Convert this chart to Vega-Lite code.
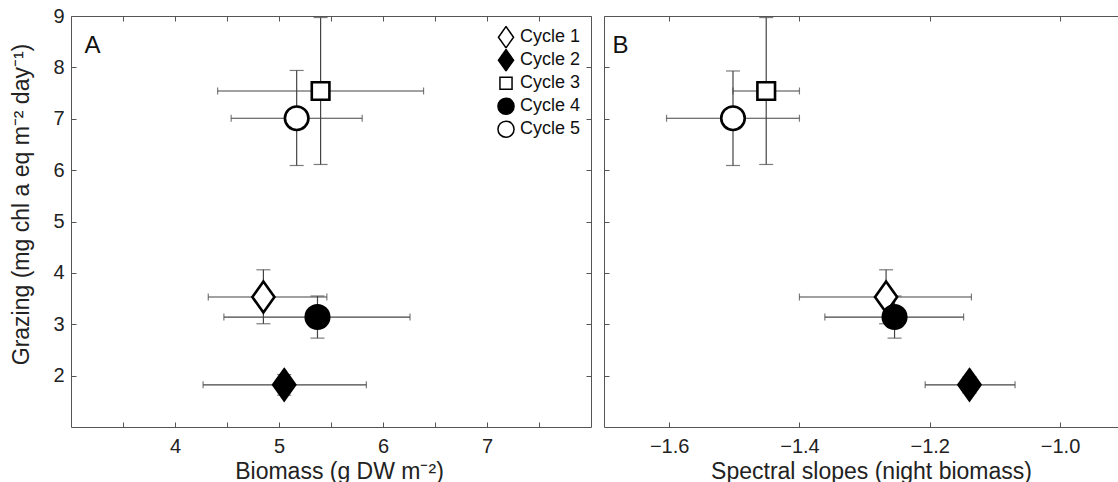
{
  "$schema": "https://vega.github.io/schema/vega-lite/v6.json",
  "background": "white",
  "padding": {"left": 10, "top": 6, "right": 0, "bottom": 0},
  "spacing": 11,
  "config": {
    "view": {"stroke": null},
    "font": "Liberation Sans",
    "axis": {
      "grid": false,
      "domainColor": "#555",
      "tickColor": "#555",
      "labelColor": "#222",
      "titleColor": "#222",
      "labelFontSize": 20,
      "titleFontSize": 23,
      "titleFontWeight": "normal",
      "labelFont": "Liberation Sans",
      "titleFont": "Liberation Sans",
      "tickSize": -5,
      "domainWidth": 1,
      "tickWidth": 1
    },
    "legend": {
      "labelFont": "Liberation Sans",
      "labelFontSize": 18,
      "labelColor": "#111"
    }
  },
  "datasets": {
    "biomass": [
      {"cycle": "Cycle 1", "x": 4.85, "y": 3.53, "xlo": 4.32, "xhi": 5.46, "ylo": 3.01, "yhi": 4.06},
      {"cycle": "Cycle 2", "x": 5.05, "y": 1.82, "xlo": 4.27, "xhi": 5.84, "ylo": 1.62, "yhi": 2.02},
      {"cycle": "Cycle 3", "x": 5.40, "y": 7.54, "xlo": 4.41, "xhi": 6.39, "ylo": 6.11, "yhi": 8.97},
      {"cycle": "Cycle 4", "x": 5.37, "y": 3.14, "xlo": 4.47, "xhi": 6.26, "ylo": 2.73, "yhi": 3.55},
      {"cycle": "Cycle 5", "x": 5.17, "y": 7.01, "xlo": 4.54, "xhi": 5.80, "ylo": 6.09, "yhi": 7.94}
    ],
    "slopes": [
      {"cycle": "Cycle 1", "x": -1.267, "y": 3.53, "xlo": -1.40, "xhi": -1.136, "ylo": 3.01, "yhi": 4.06},
      {"cycle": "Cycle 2", "x": -1.139, "y": 1.82, "xlo": -1.207, "xhi": -1.069, "ylo": 1.66, "yhi": 1.98},
      {"cycle": "Cycle 3", "x": -1.451, "y": 7.54, "xlo": -1.502, "xhi": -1.40, "ylo": 6.11, "yhi": 8.97},
      {"cycle": "Cycle 4", "x": -1.254, "y": 3.14, "xlo": -1.361, "xhi": -1.148, "ylo": 2.73, "yhi": 3.55},
      {"cycle": "Cycle 5", "x": -1.502, "y": 7.01, "xlo": -1.604, "xhi": -1.40, "ylo": 6.09, "yhi": 7.93}
    ],
    "panelA": [{"label": "A"}],
    "panelB": [{"label": "B"}]
  },
  "resolve": {
    "scale": {"shape": "independent", "fill": "independent"},
    "legend": {"shape": "independent", "fill": "independent"}
  },
  "hconcat": [
    {
      "width": 520,
      "height": 411,
      "data": {"name": "biomass"},
      "resolve": {"axis": {"x": "independent", "y": "independent"}},
      "layer": [
        {
          "mark": {"type": "errorbar", "ticks": true, "size": 7, "thickness": 1.2, "color": "#444"},
          "encoding": {
            "x": {"field": "xlo", "type": "quantitative", "scale": {"domain": [3, 8], "nice": false, "zero": false},
                  "axis": {"orient": "top", "values": [3.5, 4, 4.5, 5, 5.5, 6, 6.5, 7, 7.5], "labels": false, "title": null}},
            "x2": {"field": "xhi"},
            "y": {"field": "y", "type": "quantitative", "scale": {"domain": [1, 9], "nice": false, "zero": false},
                  "axis": {"orient": "right", "values": [2, 3, 4, 5, 6, 7, 8, 9], "labels": false, "title": null}}
          }
        },
        {
          "mark": {"type": "errorbar", "ticks": true, "size": 14, "thickness": 1.2, "color": "#444"},
          "encoding": {
            "y": {"field": "ylo", "type": "quantitative", "scale": {"domain": [1, 9], "nice": false, "zero": false}, "axis": null},
            "y2": {"field": "yhi"},
            "x": {"field": "x", "type": "quantitative", "scale": {"domain": [3, 8], "nice": false, "zero": false}, "axis": null}
          }
        },
        {
          "mark": {"type": "point", "filled": false, "stroke": "black", "strokeWidth": 2.6, "opacity": 1, "size": 552},
          "encoding": {
            "x": {"field": "x", "type": "quantitative", "scale": {"domain": [3, 8], "nice": false, "zero": false},
                  "axis": {"orient": "bottom", "values": [3.5, 4, 4.5, 5, 5.5, 6, 6.5, 7, 7.5],
                           "labelExpr": "datum.value % 1 === 0 ? format(datum.value, 'd') : ''",
                           "labelPadding": 14, "title": "Biomass (g DW m⁻²)", "titlePadding": 4, "titleX": 268}},
            "y": {"field": "y", "type": "quantitative", "scale": {"domain": [1, 9], "nice": false, "zero": false},
                  "axis": {"orient": "left", "values": [2, 3, 4, 5, 6, 7, 8, 9], "labelPadding": 12,
                           "title": "Grazing (mg chl a eq m⁻² day⁻¹)", "titlePadding": 19, "titleY": 188}},
            "shape": {"field": "cycle", "type": "nominal",
                      "scale": {"domain": ["Cycle 1", "Cycle 2", "Cycle 3", "Cycle 4", "Cycle 5"],
                                "range": ["M0,-1.32L0.94,0L0,1.32L-0.94,0Z", "M0,-1.32L0.94,0L0,1.32L-0.94,0Z", "M-0.75,-0.75L0.75,-0.75L0.75,0.75L-0.75,0.75Z", "circle", "circle"]},
                      "legend": {"title": null, "orient": "top-right", "offset": 10, "padding": 0, "symbolSize": 260,
                                 "rowPadding": 0, "clipHeight": 22.4, "labelOffset": 5,
                                 "encode": {"symbols": {"update": {"stroke": {"value": "black"}, "strokeWidth": {"value": 2.3}, "opacity": {"value": 1}}}}}},
            "fill": {"field": "cycle", "type": "nominal",
                     "scale": {"domain": ["Cycle 1", "Cycle 2", "Cycle 3", "Cycle 4", "Cycle 5"],
                               "range": ["white", "black", "white", "black", "white"]},
                     "legend": {"title": null, "orient": "top-right", "offset": 10, "padding": 0, "symbolSize": 260,
                                "rowPadding": 0, "clipHeight": 22.4, "labelOffset": 5,
                                "encode": {"symbols": {"update": {"stroke": {"value": "black"}, "strokeWidth": {"value": 2.3}, "opacity": {"value": 1}}}}}}
          }
        },
        {
          "data": {"name": "panelA"},
          "mark": {"type": "text", "fontSize": 24, "fontWeight": 400, "align": "left", "baseline": "alphabetic", "color": "#111"},
          "encoding": {
            "text": {"field": "label"},
            "x": {"datum": 3.13, "type": "quantitative", "axis": null},
            "y": {"datum": 8.28, "type": "quantitative", "axis": null}
          }
        }
      ]
    },
    {
      "width": 514,
      "height": 411,
      "data": {"name": "slopes"},
      "resolve": {"axis": {"x": "independent", "y": "independent"}},
      "layer": [
        {
          "mark": {"type": "errorbar", "ticks": true, "size": 7, "thickness": 1.2, "color": "#444"},
          "encoding": {
            "x": {"field": "xlo", "type": "quantitative", "scale": {"domain": [-1.7, -0.911], "nice": false, "zero": false},
                  "axis": {"orient": "top", "values": [-1.6, -1.4, -1.2, -1.0], "labels": false, "title": null}},
            "x2": {"field": "xhi"},
            "y": {"field": "y", "type": "quantitative", "scale": {"domain": [1, 9], "nice": false, "zero": false},
                  "axis": {"orient": "left", "values": [2, 3, 4, 5, 6, 7, 8, 9], "labels": false, "title": null}}
          }
        },
        {
          "mark": {"type": "errorbar", "ticks": true, "size": 14, "thickness": 1.2, "color": "#444"},
          "encoding": {
            "y": {"field": "ylo", "type": "quantitative", "scale": {"domain": [1, 9], "nice": false, "zero": false}, "axis": null},
            "y2": {"field": "yhi"},
            "x": {"field": "x", "type": "quantitative", "scale": {"domain": [-1.7, -0.911], "nice": false, "zero": false}, "axis": null}
          }
        },
        {
          "mark": {"type": "point", "filled": false, "stroke": "black", "strokeWidth": 2.6, "opacity": 1, "size": 552},
          "encoding": {
            "x": {"field": "x", "type": "quantitative", "scale": {"domain": [-1.7, -0.911], "nice": false, "zero": false},
                  "axis": {"orient": "bottom", "values": [-1.6, -1.4, -1.2, -1.0], "format": ".1f",
                           "labelPadding": 14, "title": "Spectral slopes (night biomass)", "titlePadding": 4, "titleX": 267}},
            "y": {"field": "y", "type": "quantitative", "scale": {"domain": [1, 9], "nice": false, "zero": false}, "axis": null},
            "shape": {"field": "cycle", "type": "nominal",
                      "scale": {"domain": ["Cycle 1", "Cycle 2", "Cycle 3", "Cycle 4", "Cycle 5"],
                                "range": ["M0,-1.32L0.94,0L0,1.32L-0.94,0Z", "M0,-1.32L0.94,0L0,1.32L-0.94,0Z", "M-0.75,-0.75L0.75,-0.75L0.75,0.75L-0.75,0.75Z", "circle", "circle"]},
                      "legend": null},
            "fill": {"field": "cycle", "type": "nominal",
                     "scale": {"domain": ["Cycle 1", "Cycle 2", "Cycle 3", "Cycle 4", "Cycle 5"],
                               "range": ["white", "black", "white", "black", "white"]},
                     "legend": null}
          }
        },
        {
          "data": {"name": "panelB"},
          "mark": {"type": "text", "fontSize": 24, "fontWeight": 400, "align": "left", "baseline": "alphabetic", "color": "#111"},
          "encoding": {
            "text": {"field": "label"},
            "x": {"datum": -1.687, "type": "quantitative", "axis": null},
            "y": {"datum": 8.28, "type": "quantitative", "axis": null}
          }
        }
      ]
    }
  ]
}
